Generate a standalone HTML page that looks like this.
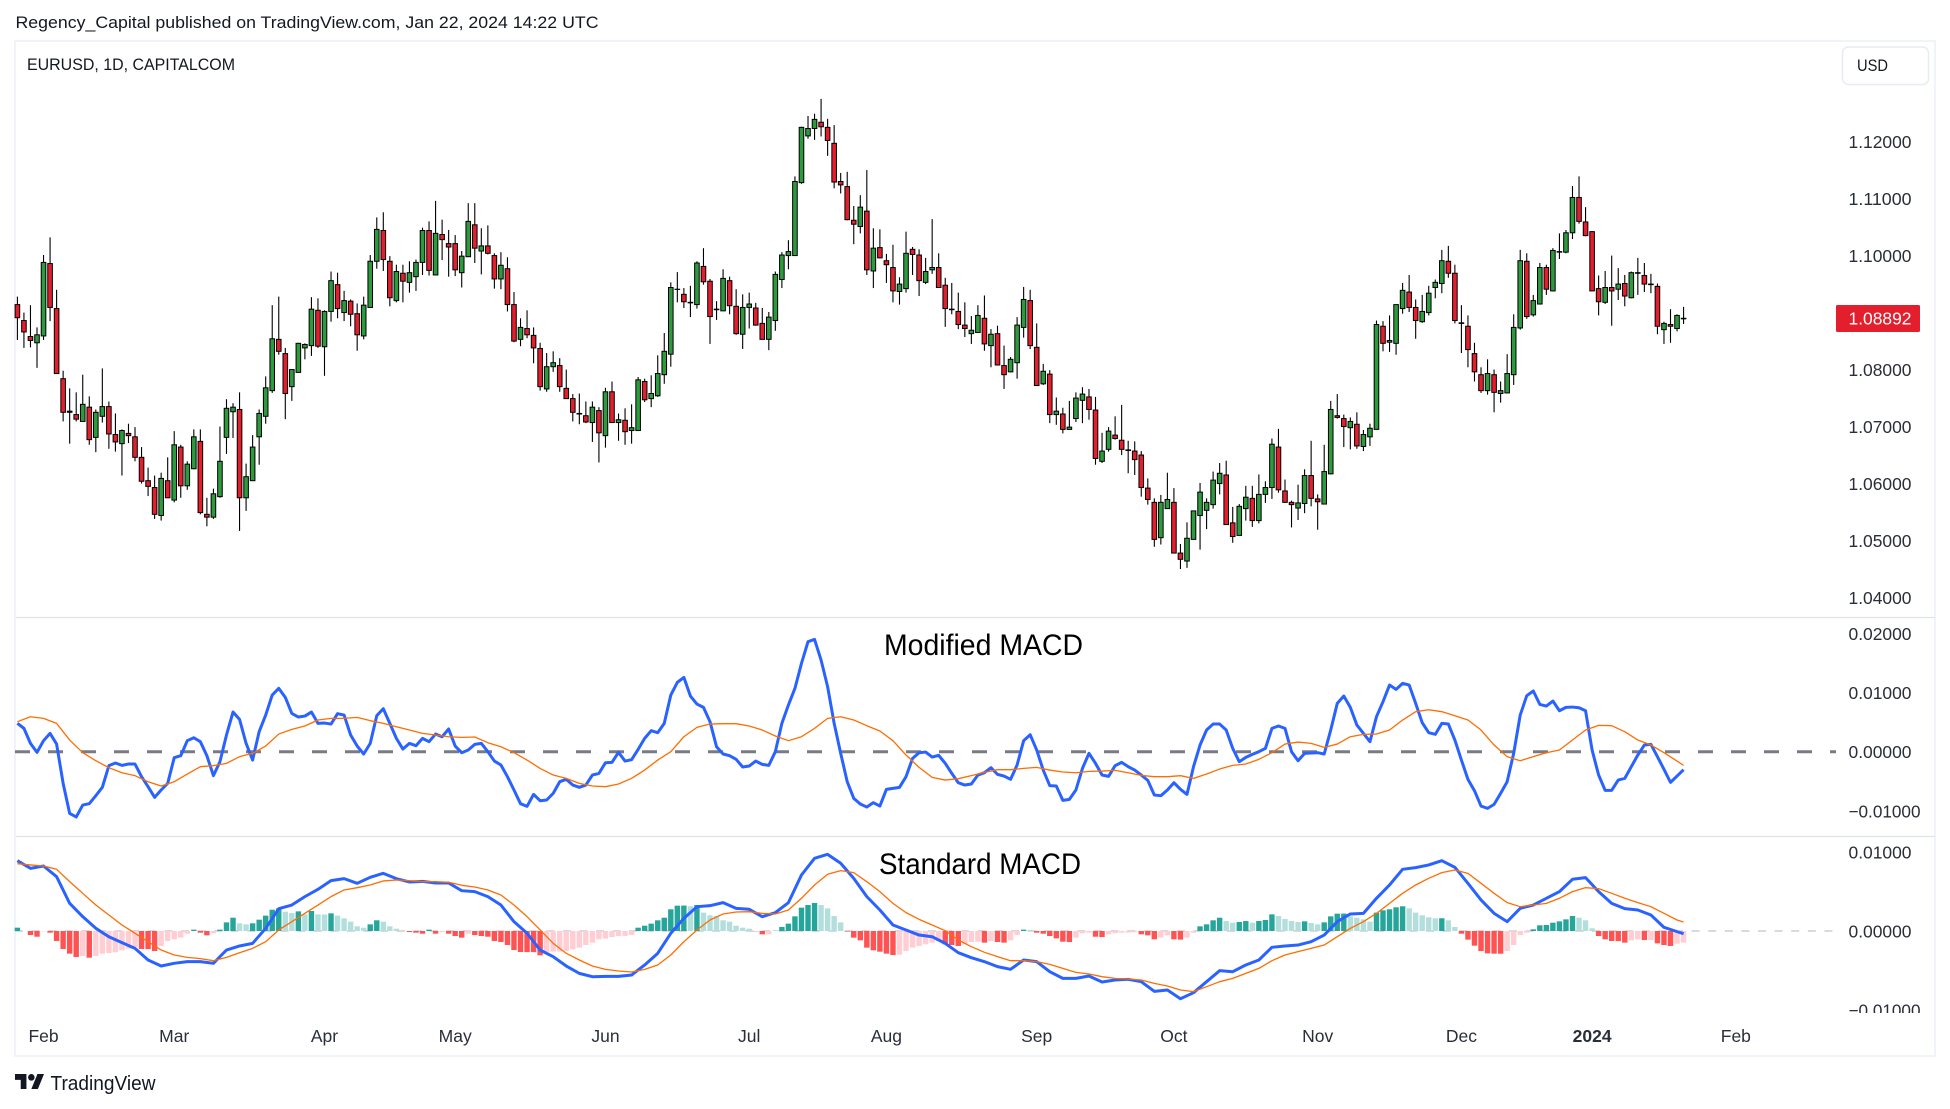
<!DOCTYPE html>
<html lang="en">
<head>
<meta charset="utf-8">
<title>EURUSD 1D chart with Modified and Standard MACD</title>
<style>
html,body{margin:0;padding:0;background:#fff;width:1950px;height:1109px;overflow:hidden}
svg{display:block}
text{font-family:"Liberation Sans",sans-serif;fill:#131722}
.axis{font-size:17.5px;fill:#2a2e39}
</style>
</head>
<body>
<svg id="chart" xmlns="http://www.w3.org/2000/svg" width="1950" height="1109" viewBox="0 0 1950 1109">
  <defs>
    <clipPath id="std-axis-clip"><rect x="1838" y="838" width="96" height="175"/></clipPath>
  </defs>
  <rect x="0" y="0" width="1950" height="1109" fill="#ffffff"/>
  <text x="15.5" y="28" font-size="17" textLength="583" lengthAdjust="spacingAndGlyphs">Regency_Capital published on TradingView.com, Jan 22, 2024 14:22 UTC</text>
  <rect x="15" y="41" width="1920" height="1015" fill="none" stroke="#f0f3fa" stroke-width="2"/>
  <line x1="16" x2="1935" y1="617.5" y2="617.5" stroke="#e0e3eb" stroke-width="1.2"/>
  <line x1="16" x2="1935" y1="836.5" y2="836.5" stroke="#e0e3eb" stroke-width="1.2"/>
  <text x="27" y="70" font-size="17" textLength="208" lengthAdjust="spacingAndGlyphs">EURUSD, 1D, CAPITALCOM</text>
  <g>
    <rect x="1842.5" y="47" width="86" height="37.5" rx="6" fill="#ffffff" stroke="#e8ebf2" stroke-width="1.5"/>
    <text x="1857" y="71" font-size="17" textLength="31" lengthAdjust="spacingAndGlyphs">USD</text>
  </g>
  <g id="price-pane"></g>
  <g id="modified-pane"></g>
  <g id="standard-pane"></g>
  <g id="axes"></g>
  <rect x="1836" y="305" width="84" height="27" rx="1.5" fill="#e31e2d"/>
  <text x="1848.5" y="324.5" font-size="17.5" textLength="63" lengthAdjust="spacingAndGlyphs" style="fill:#ffffff">1.08892</text>
  <text x="884" y="655" font-size="30" textLength="199" lengthAdjust="spacingAndGlyphs" style="fill:#000">Modified MACD</text>
  <text x="879" y="874" font-size="30" textLength="202" lengthAdjust="spacingAndGlyphs" style="fill:#000">Standard MACD</text>
  <g>
    <svg x="15" y="1074" width="29" height="15" viewBox="0 7 35.5 18" preserveAspectRatio="none">
      <path d="M14 25H7V14H0V7h14v18zM28 25h-8l7.5-18h8L28 25z" fill="#131722"/>
      <circle cx="20" cy="11" r="4" fill="#131722"/>
    </svg>
    <text x="50.5" y="1090" font-size="20" textLength="105" lengthAdjust="spacingAndGlyphs">TradingView</text>
  </g>
</svg>
<script>
/* Prices in units of 0.0001 */
const opens=[10914,10886,10858,10847,10859,10986,10907,10784,10727,10721,10709,10734,10681,10718,10735,10686,10670,10688,10682,10646,10605,10593,10544,10605,10571,10664,10596,10626,10674,10546,10541,10577,10681,10726,10730,10575,10605,10682,10718,10763,10853,10828,10770,10795,10838,10842,10904,10840,10902,10949,10900,10920,10898,10859,10909,10990,11044,10990,10921,10969,10953,10963,10988,11044,10966,11037,11021,11021,10970,10998,11054,11008,11017,11000,10959,10977,10914,10853,10872,10860,10837,10766,10805,10807,10767,10749,10723,10719,10707,10728,10684,10761,10707,10711,10693,10693,10779,10749,10754,10791,10827,10941,10932,10918,10914,10981,10955,10906,10903,10956,10911,10862,10909,10908,10881,10853,10886,10958,11000,11000,11128,11210,11223,11234,11225,11197,11130,11121,11062,11051,11078,10973,11014,10991,10979,10937,10942,11011,11001,10953,10975,10979,10948,10906,10902,10878,10863,10865,10890,10842,10863,10807,10796,10812,10874,10921,10839,10775,10792,10721,10722,10695,10714,10746,10752,10729,10639,10660,10685,10676,10659,10657,10650,10592,10567,10505,10556,10567,10478,10464,10502,10544,10553,10563,10600,10615,10531,10509,10556,10574,10535,10581,10593,10664,10587,10567,10557,10565,10614,10573,10564,10617,10719,10714,10698,10704,10665,10682,10695,10876,10848,10846,10907,10936,10909,10884,10900,10944,10951,10990,10969,10882,10876,10828,10791,10763,10791,10758,10759,10791,10873,10990,10896,10915,10979,10938,11007,11006,11040,11102,11059,11042,10942,10918,10944,10941,10951,10926,10970,10965,10950,10946,10870,10879,10872,10890];
const highs=[10928,10900,10913,10874,11001,11032,10940,10798,10767,10760,10791,10753,10730,10802,10744,10723,10695,10705,10699,10664,10628,10614,10619,10646,10692,10668,10639,10695,10695,10575,10591,10700,10748,10741,10760,10635,10685,10730,10788,10913,10928,10838,10800,10847,10846,10927,10925,10904,10972,10970,10938,10923,10916,10928,11001,11067,11076,10999,10984,10984,10990,10993,11049,11060,11096,11063,11045,11036,11008,11092,11092,11048,11053,11004,11006,10997,10936,10890,10904,10874,10847,10829,10832,10820,10800,10757,10758,10744,10744,10734,10768,10779,10723,10732,10739,10787,10784,10790,10825,10864,10953,10971,10943,10947,10990,11013,10959,10920,10976,10963,10941,10932,10935,10917,10908,10901,10972,11006,11027,11139,11226,11245,11249,11275,11240,11229,11145,11147,11087,11106,11150,11048,11046,11003,11019,10962,11042,11015,11011,10996,11064,11004,10961,10952,10935,10918,10894,10913,10930,10871,10877,10842,10822,10892,10945,10940,10881,10810,10799,10751,10733,10745,10760,10769,10766,10752,10689,10699,10718,10738,10675,10674,10657,10609,10574,10580,10619,10592,10494,10532,10552,10601,10574,10621,10636,10640,10559,10564,10596,10596,10616,10604,10679,10696,10607,10570,10598,10625,10675,10581,10668,10745,10757,10721,10716,10725,10694,10705,10886,10885,10895,10914,10952,10966,10923,10931,10947,10958,11010,11017,10984,10913,10895,10847,10804,10818,10800,10779,10827,10897,11010,11004,10931,10987,10984,11013,11039,11045,11122,11139,11085,11043,10965,10973,11000,10978,10966,10972,10996,10987,10968,10951,10884,10906,10897,10910];
const lows=[10852,10838,10839,10803,10852,10885,10793,10709,10670,10709,10709,10668,10655,10707,10661,10656,10614,10671,10639,10600,10578,10538,10535,10575,10567,10575,10589,10625,10546,10525,10538,10575,10652,10680,10517,10552,10605,10633,10705,10759,10826,10713,10745,10795,10818,10824,10838,10789,10884,10890,10885,10876,10833,10853,10909,10977,10973,10911,10918,10918,10935,10938,10966,10965,10965,10992,10963,10964,10944,10998,10987,10967,11002,10942,10941,10902,10848,10841,10855,10811,10763,10761,10796,10761,10749,10709,10704,10706,10673,10637,10663,10707,10675,10668,10670,10693,10743,10734,10752,10775,10805,10918,10908,10892,10907,10949,10845,10887,10903,10897,10861,10836,10872,10877,10853,10834,10868,10943,10976,11000,11126,11205,11203,11209,11175,11118,11109,11062,11020,11039,10966,10943,10995,10952,10918,10914,10935,10966,10929,10950,10968,10944,10875,10897,10871,10857,10845,10864,10833,10804,10807,10766,10795,10784,10856,10836,10772,10773,10706,10703,10688,10695,10708,10706,10712,10633,10636,10656,10677,10650,10618,10615,10577,10563,10489,10493,10556,10478,10450,10452,10502,10484,10520,10556,10581,10528,10496,10509,10535,10524,10530,10566,10573,10584,10566,10523,10536,10548,10560,10519,10564,10616,10714,10664,10660,10661,10657,10666,10695,10832,10831,10826,10898,10901,10854,10882,10895,10925,10934,10961,10881,10829,10804,10779,10759,10756,10725,10742,10758,10773,10870,10889,10893,10914,10931,10937,10994,11004,11029,11056,11034,10938,10895,10915,10877,10922,10911,10925,10931,10936,10934,10862,10845,10847,10867,10880];
const closes=[10891,10866,10851,10861,10988,10909,10793,10725,10725,10713,10739,10677,10725,10735,10687,10673,10693,10684,10646,10604,10595,10546,10609,10575,10668,10596,10634,10682,10549,10541,10582,10639,10732,10734,10575,10612,10664,10723,10768,10854,10832,10758,10800,10846,10844,10906,10841,10902,10956,10907,10921,10897,10861,10913,10990,11046,10993,10926,10972,10955,10970,10988,11044,10974,11039,11028,11015,10975,10999,11060,11013,11017,11004,10959,10983,10914,10850,10874,10861,10838,10770,10805,10812,10770,10749,10725,10722,10708,10734,10689,10761,10707,10712,10691,10698,10782,10747,10758,10793,10832,10944,10941,10919,10917,10987,10954,10893,10905,10960,10912,10863,10909,10915,10878,10853,10892,10967,11001,11007,11130,11225,11223,11239,11226,11202,11129,11124,11063,11055,11085,10975,11013,10996,10984,10938,10950,11004,11002,10956,10972,10979,10944,10907,10905,10879,10872,10869,10895,10845,10862,10808,10791,10818,10878,10923,10842,10772,10797,10721,10727,10695,10699,10750,10757,10730,10644,10657,10692,10679,10660,10658,10642,10593,10572,10502,10567,10572,10478,10467,10504,10552,10585,10567,10606,10618,10528,10507,10560,10576,10535,10581,10593,10669,10589,10567,10563,10566,10614,10574,10568,10621,10730,10716,10700,10709,10666,10686,10697,10879,10846,10851,10914,10939,10909,10886,10902,10934,10953,10991,10969,10886,10881,10835,10796,10763,10793,10760,10763,10793,10874,10991,10893,10921,10979,10941,11009,11006,11040,11102,11060,11035,10938,10919,10944,10938,10950,10929,10970,10969,10950,10949,10876,10881,10876,10895,10889];
/* Oscillator values in units of 0.00001 */
const modifiedMacd=[479,394,141,-11,186,310,129,-535,-1042,-1103,-901,-878,-743,-602,-236,-191,-231,-208,-208,-422,-591,-771,-647,-535,-101,-68,186,236,169,-68,-405,-169,282,670,546,141,-141,338,619,957,1070,918,647,586,602,670,479,484,467,642,619,282,96,-39,141,608,726,479,225,45,141,101,225,169,298,253,383,96,-17,28,124,141,0,-158,-225,-422,-647,-878,-923,-721,-828,-816,-704,-507,-467,-563,-602,-563,-394,-366,-186,-180,-11,-158,-135,39,225,355,321,479,957,1171,1255,940,805,749,507,84,-39,-68,-129,-259,-242,-158,-214,-231,0,479,788,1070,1492,1858,1897,1548,1098,479,-28,-507,-788,-884,-935,-861,-918,-636,-619,-602,-422,-113,-17,-6,-90,-62,-197,-366,-524,-563,-546,-394,-355,-270,-383,-411,-467,-225,186,287,28,-310,-574,-580,-822,-805,-647,-282,-28,-197,-394,-417,-236,-180,-253,-310,-394,-484,-732,-743,-647,-524,-636,-721,-253,113,366,467,467,366,56,-169,-96,-45,0,56,394,434,394,0,-152,-28,-23,-17,-39,366,816,940,749,450,310,169,591,845,1126,1053,1154,1126,816,490,321,293,479,467,197,-141,-467,-659,-918,-957,-890,-704,-507,-28,619,946,1025,799,771,856,692,749,754,743,692,28,-394,-653,-653,-479,-450,-253,-56,113,124,-84,-298,-518,-411,-304];
/* The next three series are read every 2nd session; the final value is the last session */
const modifiedSignal=[507,591,563,479,197,-17,-152,-270,-355,-405,-507,-580,-507,-377,-253,-236,-197,-84,-28,96,298,377,434,535,563,563,580,524,479,422,366,310,282,253,242,248,152,84,-17,-141,-282,-394,-450,-535,-580,-591,-546,-450,-310,-141,0,253,411,467,473,473,434,366,265,186,253,394,563,591,535,439,349,186,-56,-265,-434,-479,-456,-405,-349,-304,-304,-282,-265,-310,-343,-355,-332,-327,-315,-355,-400,-422,-422,-405,-450,-377,-293,-231,-208,-129,-17,129,163,141,73,129,253,293,298,366,535,676,709,676,608,535,366,113,-84,-152,-84,-17,28,197,366,445,439,338,197,113,-17,-158,-231];
const standardMacd=[888,791,821,686,349,181,34,-72,-147,-219,-366,-442,-408,-387,-387,-408,-240,-189,-156,34,282,328,434,526,636,661,602,678,728,661,619,627,606,606,509,497,434,328,118,-29,-240,-324,-442,-535,-577,-573,-573,-556,-429,-282,-29,160,307,320,358,286,274,181,232,358,707,918,968,855,665,434,265,76,13,-51,-72,-156,-274,-337,-387,-450,-484,-366,-387,-514,-598,-598,-568,-644,-619,-610,-640,-762,-745,-855,-779,-640,-501,-514,-429,-366,-206,-189,-177,-135,-51,118,215,223,413,581,779,800,834,888,804,602,392,223,118,286,328,413,497,653,674,497,349,282,265,202,46,-8,-34];
const standardSignal=[850,834,821,779,623,476,328,202,76,-29,-135,-240,-303,-333,-349,-375,-333,-274,-219,-135,13,118,223,328,434,518,547,581,632,644,636,623,623,615,577,556,518,455,328,181,13,-156,-282,-366,-442,-484,-505,-518,-484,-429,-303,-135,13,139,215,240,244,223,215,265,413,581,716,762,737,623,497,349,232,147,76,4,-114,-198,-269,-324,-375,-375,-387,-421,-472,-522,-543,-577,-598,-606,-619,-661,-695,-745,-766,-703,-640,-598,-535,-472,-375,-303,-261,-219,-177,-72,34,118,223,349,476,581,665,737,770,728,602,476,358,307,328,349,413,497,547,535,476,413,358,307,223,139,114];
const histogram=[42,0,-51,-72,-4,-21,-126,-227,-286,-328,-316,-337,-316,-286,-278,-269,-244,-223,-202,-227,-228,-253,-189,-126,-105,-84,-34,17,-21,-55,-29,17,109,168,97,84,97,143,194,269,286,244,227,248,210,253,210,209,223,194,160,118,59,42,84,135,118,59,29,0,-13,-21,-34,17,-34,-13,-34,-63,-84,-34,-51,-63,-72,-126,-139,-177,-240,-265,-266,-267,-307,-265,-261,-260,-253,-232,-210,-177,-147,-105,-97,-76,-63,-62,-51,42,67,93,135,168,274,320,321,312,328,232,198,189,135,118,67,42,29,-4,-42,-41,4,51,93,185,295,328,354,328,286,189,109,-8,-84,-118,-210,-244,-261,-286,-303,-299,-253,-210,-189,-168,-147,-126,-168,-177,-189,-168,-139,-135,-147,-126,-139,-147,-118,-51,17,13,-21,-34,-63,-93,-135,-139,-84,-29,-21,-72,-76,-42,-29,-21,-20,-17,-42,-55,-105,-84,-55,-105,-109,-84,-21,59,84,135,168,126,105,114,126,105,126,139,210,189,152,126,114,122,101,84,109,185,219,220,185,168,147,118,232,261,274,299,312,286,232,198,173,160,161,135,51,-34,-109,-185,-253,-282,-286,-287,-253,-177,-51,-21,21,72,76,105,122,147,189,168,135,34,-63,-105,-126,-127,-147,-118,-105,-114,-113,-156,-177,-189,-160,-147];
/* Axis tick labels and the session each month label sits under */
const priceTicks=[1.12,1.11,1.10,1.09,1.08,1.07,1.06,1.05,1.04];
const modifiedTicks=[0.02,0.01,0,-0.01];
const standardTicks=[0.01,0,-0.01];
const monthLabels=["Feb","Mar","Apr","May","Jun","Jul","Aug","Sep","Oct","Nov","Dec","2024","Feb"];
const monthSessions=[4,24,47,67,90,112,133,156,177,199,221,241,263];

const SVG_NS="http://www.w3.org/2000/svg";
const barStep=6.534, firstBarX=17.4;
const xBar=i=>firstBarX+barStep*i;
const yPrice=p=>141.6+(11200-p)*0.5699;
const yModified=v=>751.7-v*0.0592;
const yStandard=v=>931-v*0.0792;
const sampledBar=k=>Math.min(k*2,255);

function make(tag,attrs,parent){
  const el=document.createElementNS(SVG_NS,tag);
  for(const k in attrs){el.setAttribute(k,attrs[k]);}
  parent.appendChild(el);
  return el;
}
const pricePane=document.getElementById('price-pane');
const modifiedPane=document.getElementById('modified-pane');
const standardPane=document.getElementById('standard-pane');
const axes=document.getElementById('axes');

/* Candles */
opens.forEach((o,i)=>{
  const c=closes[i],x=xBar(i),up=c>=o;
  const wick=make('line',{x1:x,x2:x,y1:yPrice(highs[i]),y2:yPrice(lows[i]),stroke:'#000',"stroke-width":1.1},pricePane);
  
  
  const top=yPrice(Math.max(o,c)),bot=yPrice(Math.min(o,c));
  const body=make('rect',{x:x-2.3,y:top,width:4.6,height:Math.max(bot-top,0.2),fill:up?'#2c9a3d':'#e31e2d',stroke:'#000',"stroke-width":1},pricePane);
  
  
});

/* Modified MACD */
const zeroModified=make('line',{x1:15,x2:1836,y1:yModified(0),y2:yModified(0),stroke:'#787b86',"stroke-width":3,"stroke-dasharray":"15 18"},modifiedPane);


const modifiedLine=make('polyline',{points:modifiedMacd.map((v,i)=>xBar(i)+','+yModified(v)).join(' '),fill:'none',stroke:'#2962ff',"stroke-width":3,"stroke-linejoin":"round"},modifiedPane);


const modifiedSignalLine=make('polyline',{points:modifiedSignal.map((v,k)=>xBar(sampledBar(k))+','+yModified(v)).join(' '),fill:'none',stroke:'#ff6d00',"stroke-width":1.3,"stroke-linejoin":"round"},modifiedPane);



/* Standard MACD */
const zeroStandard=make('line',{x1:15,x2:1836,y1:yStandard(0),y2:yStandard(0),stroke:'#b2b5be',"stroke-width":1,"stroke-dasharray":"8 8.6"},standardPane);


histogram.forEach((v,i)=>{
  const prev=i?histogram[i-1]:v;
  const fill=v>=0?(v>=prev?'#26a69a':'#b2dfdb'):(v<=prev?'#ff5252':'#ffcdd2');
  const y0=yStandard(0),y1=yStandard(v);
  const bar=make('rect',{x:xBar(i)-2.7,y:Math.min(y0,y1),width:5.4,height:Math.abs(y1-y0),fill:fill},standardPane);
  
  
});
const standardLine=make('polyline',{points:standardMacd.map((v,k)=>xBar(sampledBar(k))+','+yStandard(v)).join(' '),fill:'none',stroke:'#2962ff',"stroke-width":3,"stroke-linejoin":"round"},standardPane);


const standardSignalLine=make('polyline',{points:standardSignal.map((v,k)=>xBar(sampledBar(k))+','+yStandard(v)).join(' '),fill:'none',stroke:'#ff6d00',"stroke-width":1.3,"stroke-linejoin":"round"},standardPane);



/* Axis labels */
const fmt=v=>(v<0?'\u2212':'')+Math.abs(v).toFixed(5);
priceTicks.forEach(v=>{
  if(v===1.09)return;
  const t=make('text',{x:1848.5,y:yPrice(v*10000)+6.5,"class":"axis",textLength:63,lengthAdjust:"spacingAndGlyphs"},axes);
  
  
  t.textContent=fmt(v);
});
modifiedTicks.forEach(v=>{
  const s=fmt(v);
  const t=make('text',{x:1848.5,y:yModified(v*100000)+6.5,"class":"axis",textLength:s.length*9,lengthAdjust:"spacingAndGlyphs"},axes);
  
  
  t.textContent=s;
});
const standardAxis=make('g',{"clip-path":"url(#std-axis-clip)"},axes);


standardTicks.forEach(v=>{
  const s=fmt(v);
  const t=make('text',{x:1848.5,y:yStandard(v*100000)+6.5,"class":"axis",textLength:s.length*9,lengthAdjust:"spacingAndGlyphs"},standardAxis);
  
  
  t.textContent=s;
});
monthLabels.forEach((m,i)=>{
  const attrs={x:xBar(monthSessions[i]),y:1042,"text-anchor":"middle","class":"axis"};
  if(m==="2024"){attrs["font-weight"]="bold";}
  const t=make('text',attrs,axes);
  
  
  t.textContent=m;
});
</script>
</body>
</html>
